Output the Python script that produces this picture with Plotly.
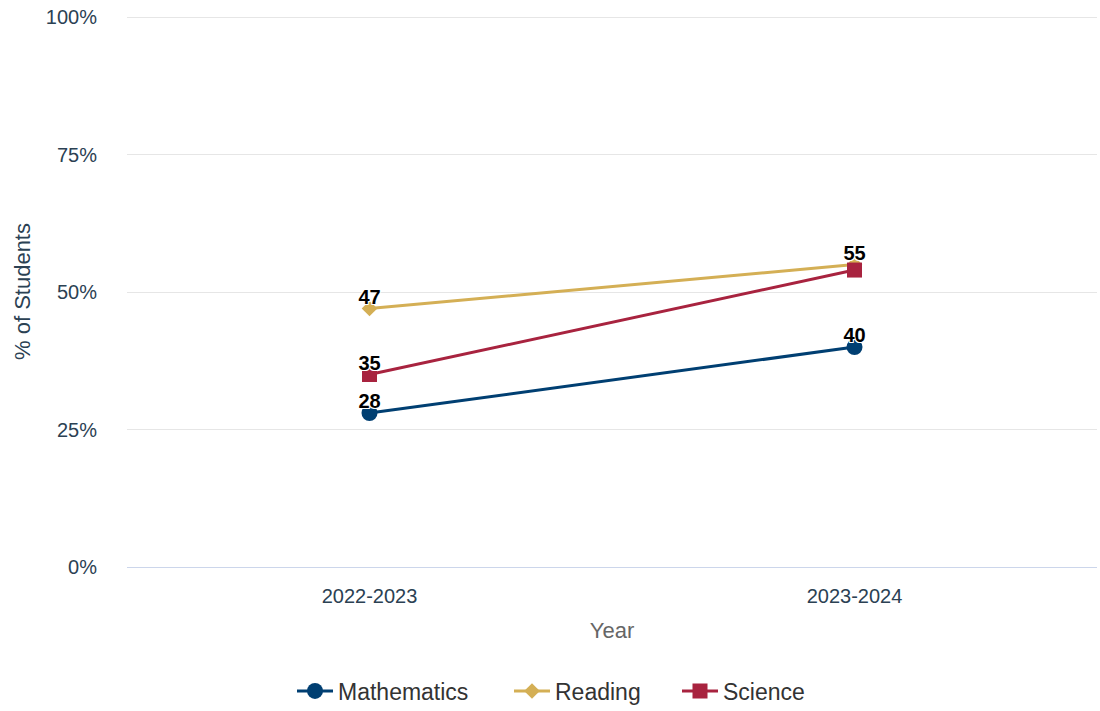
import plotly.graph_objects as go

years = ["2022-2023", "2023-2024"]
math_vals = [28, 40]
reading_vals = [47, 55]
science_vals = [35, 54]
# labels shown (the overlapping Science label in 2023-2024 is hidden in the original)
math_labels = ["28", "40"]
reading_labels = ["47", "55"]
science_labels = ["35", ""]

series = [
    ("Mathematics", math_vals, math_labels, "#003f72", "circle", 16, "legend", 292),
    ("Reading", reading_vals, reading_labels, "#d4af55", "diamond", 12, "legend2", 509),
    ("Science", science_vals, science_labels, "#a8233f", "square", 15, "legend3", 677),
]

FONT = "Liberation Sans, Arial, Helvetica, sans-serif"
fig = go.Figure()
for name, vals, labels, color, sym, sz, lg, lx in series:
    fig.add_trace(go.Scatter(
        x=years, y=vals, name=name, mode="lines+markers",
        line=dict(color=color, width=3),
        marker=dict(symbol=sym, size=sz, color=color),
        legend=lg, hoverinfo="skip",
    ))
for name, vals, labels, color, sym, sz, lg, lx in series:
    fig.add_trace(go.Scatter(
        x=years, y=vals, mode="text", text=labels, textposition="top center",
        textfont=dict(family=FONT, size=20, color="#000000", weight="bold",
                      shadow="-1px -1px 0 #fff, 1px -1px 0 #fff, -1px 1px 0 #fff, 1px 1px 0 #fff"),
        showlegend=False, hoverinfo="skip",
    ))

legend_common = dict(orientation="h", xref="container", yref="container",
                     y=1 - 691 / 711, yanchor="middle", xanchor="left",
                     itemwidth=36,
                     font=dict(family=FONT, size=23, color="#333333"),
                     bgcolor="rgba(0,0,0,0)", borderwidth=0)
layout_legends = {}
for name, vals, labels, color, sym, sz, lg, lx in series:
    layout_legends[lg] = dict(legend_common, x=lx / 1100)

fig.update_layout(
    width=1100, height=711,
    margin=dict(l=127, r=3, t=16, b=144),
    paper_bgcolor="white", plot_bgcolor="white",
    font=dict(family=FONT),
    showlegend=True,
    xaxis=dict(
        type="category", range=[-0.5, 1.5],
        showgrid=False, zeroline=False,
        showline=True, linecolor="#ccd6eb", linewidth=1,
        ticks="outside", ticklen=11, tickcolor="rgba(0,0,0,0)",
        tickfont=dict(family=FONT, size=20, color="#2b4153"),
        title=dict(text="Year", font=dict(family=FONT, size=22, color="#666666"), standoff=16),
    ),
    yaxis=dict(
        range=[0, 100.2], dtick=25, tick0=0, ticksuffix="%",
        showgrid=True, gridcolor="#e6e6e6", gridwidth=1,
        zeroline=False, showline=False,
        ticks="outside", ticklen=25, tickcolor="rgba(0,0,0,0)",
        tickfont=dict(family=FONT, size=20, color="#2b4153"),
        title=dict(text="% of Students", font=dict(family=FONT, size=22, color="#2b4153"), standoff=9),
    ),
    **layout_legends,
)
fig.write_html(
    "out.html",
    config={"displayModeBar": False},
    post_script="document.body.style.margin='0';document.body.style.overflow='hidden';document.documentElement.style.overflow='hidden';",
)
